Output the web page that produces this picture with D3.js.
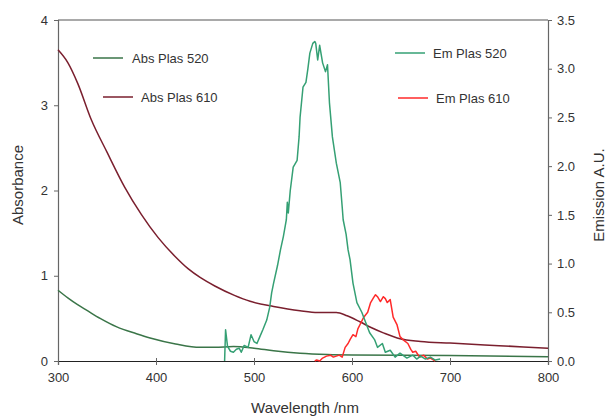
<!DOCTYPE html>
<html><head><meta charset="utf-8">
<script src="https://cdn.jsdelivr.net/npm/d3@7"></script>
<style>body{margin:0;background:#fff;}svg{display:block;}text{font-family:"Liberation Sans",Arial,sans-serif;fill:#333;}</style>
</head><body>
<svg id="c" width="607" height="419"></svg>
<script>
const xTicks=[300,400,500,600,700,800];
const yLeftTicks=[0,1,2,3,4];
const yRightTicks=[0,0.5,1.0,1.5,2.0,2.5,3.0,3.5];
const seriesNames=["Abs Plas 520","Abs Plas 610","Em Plas 520","Em Plas 610"];

const absWl520=[300,310,320,330,343,360,380,394,420,445,460,479,500,520,547,575,600,700,800];
const abs520=[0.83,0.74,0.66,0.59,0.50,0.40,0.32,0.27,0.20,0.16,0.16,0.17,0.15,0.12,0.09,0.075,0.07,0.065,0.05];

const absWl610=[300,310,320,334,350,368,385,402,420,433,445,460,480,496,520,547,565,584,595,608,620,632,649,670,700,750,800];
const abs610=[3.65,3.5,3.26,2.83,2.45,2.04,1.72,1.45,1.22,1.08,0.98,0.88,0.77,0.70,0.64,0.59,0.57,0.57,0.53,0.46,0.39,0.33,0.26,0.23,0.21,0.18,0.15];

const emWl520=[470,471,473,476,479,482,485,487,490,494,497,500,503,506,509,513,516,518,520,524,527,530,533,534,535,537,540,544,546,547,550,553,555,557,560,562,563,565,567,570,573,575,577,580,584,588,590,591,594,596,598,601,605,610,613,618,623,626,631,634,639,644,649,656,662,666,670,675,680,685,690];
const em520=[0.0,0.32,0.15,0.10,0.09,0.12,0.13,0.09,0.16,0.14,0.27,0.20,0.18,0.25,0.32,0.42,0.55,0.70,0.80,0.98,1.14,1.28,1.45,1.63,1.52,1.75,1.99,2.06,2.30,2.50,2.81,2.86,3.00,3.16,3.26,3.28,3.26,3.09,3.24,3.06,2.97,3.04,2.65,2.30,2.03,1.83,1.58,1.45,1.30,1.14,1.04,0.80,0.60,0.50,0.42,0.29,0.22,0.14,0.18,0.09,0.11,0.04,0.08,0.03,0.06,0.02,0.05,0.02,0.04,0.01,0.02];

const emWl610=[562,564,567,570,574,578,581,584,587,590,593,596,598,601,604,606,609,612,616,619,622,624,626,629,632,634,636,639,642,646,649,652,657,660,662,665,669,673,677,680,685];
const em610=[0.0,0.01,0.0,0.03,0.05,0.06,0.04,0.05,0.06,0.04,0.14,0.18,0.22,0.27,0.25,0.33,0.39,0.45,0.50,0.60,0.65,0.68,0.66,0.61,0.66,0.64,0.60,0.63,0.45,0.37,0.25,0.22,0.18,0.12,0.09,0.10,0.04,0.06,0.02,0.03,0.0];

const colors=["#3a7548","#7a1f2e","#35a074","#ff2a2a"];

const svg=d3.select("#c");
const L=58,R=548,T=20,B=361;
const x=d3.scaleLinear().domain([300,800]).range([L,R]);
const yL=d3.scaleLinear().domain([0,4]).range([B,T]);
const yR=d3.scaleLinear().domain([0,3.5]).range([B,T]);

// frame
svg.append("line").attr("x1",L).attr("x2",R).attr("y1",T).attr("y2",T).attr("stroke","#555").attr("stroke-width",1.2);

const fs="13px";
const gx=svg.append("g").attr("transform",`translate(0,${B})`).call(d3.axisBottom(x).tickValues(xTicks).tickSize(4).tickPadding(8));
const gl=svg.append("g").attr("transform",`translate(${L},0)`).call(d3.axisLeft(yL).tickValues(yLeftTicks).tickFormat(d3.format("d")).tickSize(4).tickPadding(6));
const gr=svg.append("g").attr("transform",`translate(${R},0)`).call(d3.axisRight(yR).tickValues(yRightTicks).tickFormat(d3.format(".1f")).tickSize(4).tickPadding(5));
[gx,gl,gr].forEach(g=>{g.selectAll("text").style("font-size",fs).attr("fill","#333");g.select(".domain").attr("stroke","#666").attr("stroke-width",1.2);g.selectAll(".tick line").attr("stroke","#666");});
gx.select(".domain").attr("stroke","#222");
gx.selectAll(".tick line").attr("y1",-3);

function addLine(xs,ys,yScale,color,curve){
  const data=xs.map((d,i)=>[d,ys[i]]);
  svg.append("path").datum(data).attr("fill","none").attr("stroke",color).attr("stroke-width",1.5)
    .attr("stroke-linejoin","round")
    .attr("d",d3.line().x(d=>x(d[0])).y(d=>yScale(d[1])).curve(curve));
}
addLine(absWl610,abs610,yL,colors[1],d3.curveMonotoneX);
addLine(absWl520,abs520,yL,colors[0],d3.curveMonotoneX);
addLine(emWl610,em610,yR,colors[3],d3.curveLinear);
addLine(emWl520,em520,yR,colors[2],d3.curveLinear);

// legend
const leg=[{n:0,x1:93,x2:123,y:58,tx:132},{n:1,x1:103,x2:133,y:97,tx:141},{n:2,x1:395,x2:425,y:53,tx:433},{n:3,x1:398,x2:428,y:98,tx:436}];
leg.forEach(l=>{
  svg.append("line").attr("x1",l.x1).attr("x2",l.x2).attr("y1",l.y).attr("y2",l.y).attr("stroke",colors[l.n]).attr("stroke-width",1.5);
  svg.append("text").attr("x",l.tx).attr("y",l.y+4.5).style("font-size","13px").text(seriesNames[l.n]);
});

// titles
svg.append("text").attr("x",305).attr("y",413).attr("text-anchor","middle").style("font-size","15px").text("Wavelength /nm");
svg.append("text").attr("transform","translate(23,185) rotate(-90)").attr("text-anchor","middle").style("font-size","15px").text("Absorbance");
svg.append("text").attr("transform","translate(604,195) rotate(-90)").attr("text-anchor","middle").style("font-size","15px").text("Emission A.U.");
</script>
</body></html>
